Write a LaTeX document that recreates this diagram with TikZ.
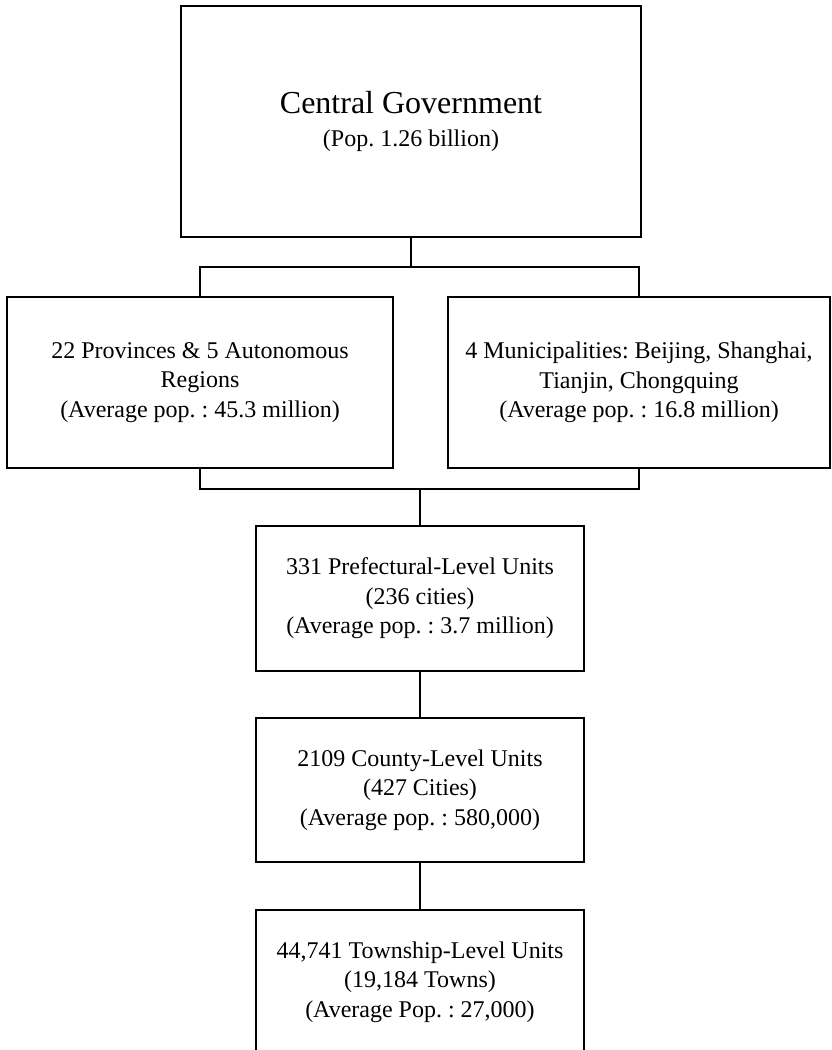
\documentclass[tikz,border=0pt]{standalone}
\usepackage{fontspec}
\setmainfont{Liberation Serif}
\frenchspacing

\begin{document}
\begin{tikzpicture}[x=1pt, y=-1pt,
	unit/.style={shape=rectangle, draw=black, line width=1.8pt, align=center,
		font=\fontsize{24}{29.5}\selectfont, inner sep=0pt},
	link/.style={-, draw=black, line width=1.8pt}]
	\useasboundingbox (0,0) rectangle (832,1050);

	\node[unit, minimum width=460, minimum height=231] (0) at (411,121.5) {{\fontsize{32}{36}\selectfont Central Government}\\[3pt](Pop. 1.26 billion)};
	\node[unit, minimum width=386, minimum height=171] (1) at (200,382.5) {22 Provinces \& 5 Autonomous\\Regions\\(Average pop. : 45.3 million)};
	\node[unit, minimum width=382, minimum height=171] (2) at (639,382.5) {4 Municipalities: Beijing, Shanghai,\\Tianjin, Chongquing\\(Average pop. : 16.8 million)};
	\node[unit, minimum width=328, minimum height=145] (3) at (420,598.5) {331 Prefectural-Level Units\\(236 cities)\\(Average pop. : 3.7 million)};
	\node[unit, minimum width=328, minimum height=144] (4) at (420,790)   {2109 County-Level Units\\(427 Cities)\\(Average pop. : 580,000)};
	\node[unit, minimum width=328, minimum height=144] (5) at (420,982)   {44,741 Township-Level Units\\(19,184 Towns)\\(Average Pop. : 27,000)};

	\coordinate (split) at (411,267);
	\coordinate (merge) at (420,489);

	\draw [link] (0) -- (split);
	\draw [link] (1.north) |- (split) -| (2.north);
	\draw [link] (1.south) |- (merge) -| (2.south);
	\draw [link] (merge) -- (3);
	\draw [link] (3) -- (4);
	\draw [link] (4) -- (5);
\end{tikzpicture}
\end{document}
